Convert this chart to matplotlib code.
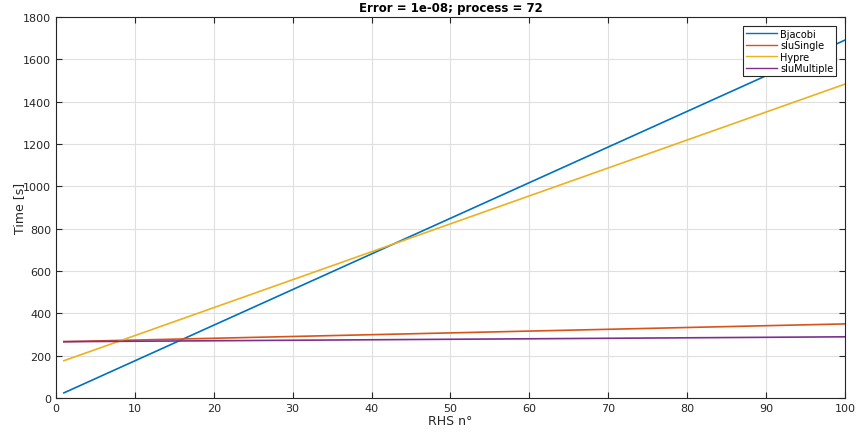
import matplotlib
matplotlib.use('Agg')
import matplotlib.pyplot as plt

# values (straight lines, start and end points)
rhs = [1, 100]
bjacobi = [24, 1691]
slu_single = [266, 350]
hypre = [176, 1483]
slu_multiple = [266, 289]

names = ['Bjacobi', 'sluSingle', 'Hypre', 'sluMultiple']
colors = ['#0072BD', '#D95319', '#EDB120', '#7E2F8E']

plt.rcParams['font.family'] = 'DejaVu Sans'

fig = plt.figure(figsize=(8.57, 4.35), dpi=100)
axes = fig.add_axes([0.0653, 0.0828, 0.9207, 0.8758])

for ys, name, c in zip([bjacobi, slu_single, hypre, slu_multiple], names, colors):
    axes.plot(rhs, ys, color=c, lw=1.2, label=name)

axes.set_xlim(0, 100)
axes.set_ylim(0, 1800)
axes.set_xticks(range(0, 101, 10))
axes.set_yticks(range(0, 1801, 200))
axes.grid(True, color='#dfdfdf', lw=0.8)
axes.set_axisbelow(True)
axes.tick_params(direction='in', top=True, right=True, labelsize=8,
                 colors='#262626', length=4, width=0.8)
for s in axes.spines.values():
    s.set_color('#262626')
    s.set_linewidth(0.8)

axes.set_xlabel('RHS n°', fontsize=9, color='#262626', labelpad=1)
axes.set_ylabel('Time [s]', fontsize=9, color='#262626', labelpad=-2)
axes.set_title('Error = 1e-08; process = 72', fontsize=8.5, fontweight='bold',
               color='#000000', pad=4)

leg = axes.legend(loc='upper right', fontsize=7, fancybox=False, framealpha=1,
                  edgecolor='#262626', borderpad=0.3, labelspacing=0.15,
                  handlelength=3.2, handletextpad=0.3, borderaxespad=0.9)
leg.get_frame().set_linewidth(0.8)
for h in leg.get_lines():
    h.set_linewidth(1.0)

plt.savefig('out.png', dpi=100)
plt.close(fig)
